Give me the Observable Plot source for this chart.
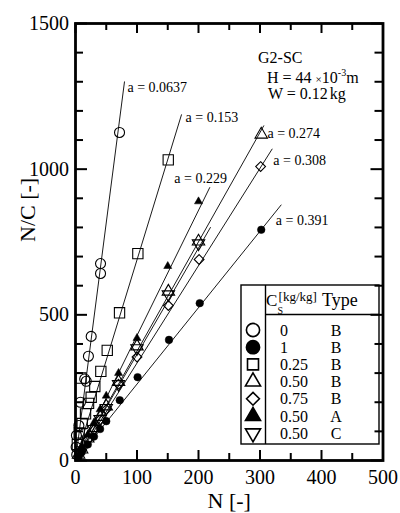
<!DOCTYPE html>
<html><head><meta charset="utf-8">
<script src="https://cdn.jsdelivr.net/npm/d3@7"></script>
<script src="https://cdn.jsdelivr.net/npm/@observablehq/plot@0.6"></script>
<style>
html,body{margin:0;padding:0;background:#fff;}
#chart{position:relative;width:400px;height:513px;}
</style></head><body><div id="chart"></div>
<script>
// ---------- data ----------
const xTickLabels = [0, 100, 200, 300, 400, 500];
const xMinorTicks = [50, 150, 250, 350, 450];
const yTickLabels = [0, 500, 1000, 1500];
const yMinorTicks = [100, 200, 300, 400, 600, 700, 800, 900, 1100, 1200, 1300, 1400];

const xLabel = "N [-]";
const yLabel = "N/C [-]";
const infoTitle = "G2-SC";

// series (legend order)
const seriesKey  = ["0B", "1B", "025B", "050B", "075B", "050A", "050C"];
const legendCs   = ["0", "1", "0.25", "0.50", "0.75", "0.50", "0.50"];
const legendType = ["B", "B", "B", "B", "B", "A", "C"];

const N_0B   = [71.6, 40.7, 40.7, 25.5, 21, 15, 17.5, 8, 5.5, 1.5, 1, 2];
const NC_0B  = [1126, 676, 642, 426, 358, 280, 272, 200, 120, 86, 46, 20];
const N_1B   = [302, 202, 152, 101, 72, 50, 40, 30, 20, 10, 5];
const NC_1B  = [792, 540, 414, 286, 207, 135, 108, 82, 55, 28, 14];
const N_025B = [150.8, 101.4, 71.6, 51.6, 41.2, 31.4, 25.5, 21.2, 16.3, 10.9, 9, 6, 3];
const NC_025B= [1032, 710, 507, 378, 306, 254, 217, 196, 160, 127, 283, 95, 55];
const N_050B = [302, 200, 151, 100, 70, 50, 40, 30, 20, 10, 5];
const NC_050B= [1119, 752, 580, 392, 270, 186, 150, 112, 76, 38, 20];
const N_075B = [301, 201, 151, 100, 70, 50, 40, 30, 20, 10];
const NC_075B= [1009, 690, 532, 355, 262, 175, 140, 105, 70, 35];
const N_050A = [200, 150, 100, 70, 50, 40, 30, 20, 10];
const NC_050A= [889, 667, 420, 300, 222, 175, 130, 88, 44];
const N_050C = [200, 151, 100, 70, 50, 40, 30, 20, 10];
const NC_050C= [745, 570, 385, 262, 180, 142, 108, 72, 35];

// fitted lines (from origin to end point)
const lineLabel = ["a = 0.0637", "a = 0.153", "a = 0.229", "a = 0.274", "", "a = 0.308", "a = 0.391"];
const lineEndN  = [79.7, 172.5, 218.5, 306.4, 219.7, 320, 334.7];
const lineEndNC = [1301, 1188, 938, 1150, 801, 1070, 878];

// ---------- build tables ----------
const seriesN  = {"0B": N_0B, "1B": N_1B, "025B": N_025B, "050B": N_050B, "075B": N_075B, "050A": N_050A, "050C": N_050C};
const seriesNC = {"0B": NC_0B, "1B": NC_1B, "025B": NC_025B, "050B": NC_050B, "075B": NC_075B, "050A": NC_050A, "050C": NC_050C};
const points = seriesKey.flatMap(k => seriesN[k].map((n, i) => ({key: k, n, nc: seriesNC[k][i]})));
const lines = lineLabel.map((label, i) => ({label, n0: 0, nc0: 0, n1: lineEndN[i], nc1: lineEndNC[i]}));

// ---------- styles ----------
const FONT = "'Liberation Serif', 'Times New Roman', serif";
const symStyle = {
  "0B":   {symbol: "circle",   fill: "none",  r: 5,   rotate: 0},
  "1B":   {symbol: "circle",   fill: "black", r: 3.8, rotate: 0},
  "025B": {symbol: "square",   fill: "none",  r: 5.8, rotate: 0},
  "050B": {symbol: "triangle", fill: "none",  r: 4.6, rotate: 0},
  "075B": {symbol: "diamond2", fill: "none",  r: 4.4, rotate: 0},
  "050A": {symbol: "triangle", fill: "black", r: 3,   rotate: 0},
  "050C": {symbol: "triangle", fill: "none",  r: 4.6, rotate: 180}
};
const labelStyle = [
  {dx: 3, dy: 6, anchor: "start"},
  {dx: 4, dy: 3, anchor: "start"},
  {dx: 17, dy: -9, anchor: "end"},
  {dx: 3.5, dy: 8, anchor: "start"},
  null,
  {dx: 1, dy: 12, anchor: "start"},
  {dx: -5.5, dy: 16, anchor: "start"}
];

const dotMarks = seriesKey.map(k => {
  const s = symStyle[k];
  return Plot.dot(points.filter(d => d.key === k), {
    x: "n", y: "nc", symbol: () => s.symbol, r: s.r, rotate: s.rotate,
    fill: s.fill, stroke: "black", strokeWidth: s.fill === "none" ? 1.1 : 0.5
  });
});

const labelMarks = lines.map((d, i) => labelStyle[i] ? Plot.text([d], {
  x: "n1", y: "nc1", text: "label", dx: labelStyle[i].dx, dy: labelStyle[i].dy,
  textAnchor: labelStyle[i].anchor, fontSize: 14, fill: "black", fontFamily: FONT
}) : null).filter(Boolean);

const tickW = 2;
const svg = Plot.plot({
  width: 400, height: 513,
  marginLeft: 75, marginRight: 17.5, marginTop: 23, marginBottom: 53,
  x: {domain: [0, 500], axis: null},
  y: {domain: [0, 1500], axis: null},
  style: {fontFamily: FONT, background: "white", color: "black", overflow: "visible"},
  marks: [
    // inward ticks on all four sides
    Plot.ruleX(xTickLabels, {x: d => d, y1: 0, y2: 0, insetBottom: 10, stroke: "black", strokeWidth: tickW}),
    Plot.ruleX(xMinorTicks, {x: d => d, y1: 0, y2: 0, insetBottom: 7, stroke: "black", strokeWidth: tickW}),
    Plot.ruleX(xTickLabels, {x: d => d, y1: 1500, y2: 1500, insetTop: 10, stroke: "black", strokeWidth: tickW}),
    Plot.ruleX(xMinorTicks, {x: d => d, y1: 1500, y2: 1500, insetTop: 7, stroke: "black", strokeWidth: tickW}),
    Plot.ruleY(yTickLabels, {y: d => d, x1: 0, x2: 0, insetRight: -12, stroke: "black", strokeWidth: tickW}),
    Plot.ruleY(yMinorTicks, {y: d => d, x1: 0, x2: 0, insetRight: -8, stroke: "black", strokeWidth: tickW}),
    Plot.ruleY(yTickLabels, {y: d => d, x1: 500, x2: 500, insetLeft: -12, stroke: "black", strokeWidth: tickW}),
    Plot.ruleY(yMinorTicks, {y: d => d, x1: 500, x2: 500, insetLeft: -8, stroke: "black", strokeWidth: tickW}),
    Plot.frame({stroke: "black", strokeWidth: 2.8}),
    Plot.axisX(xTickLabels, {tickSize: 0, tickPadding: 9, fontSize: 20, label: null, tickFormat: d => String(d), fontFamily: FONT}),
    Plot.axisY(yTickLabels, {tickSize: 0, tickPadding: 6.5, fontSize: 20, label: null, tickFormat: d => String(d), fontFamily: FONT}),
    Plot.link(lines, {x1: "n0", y1: "nc0", x2: "n1", y2: "nc1", stroke: "black", strokeWidth: 0.9}),
    ...dotMarks,
    ...labelMarks,
    Plot.text([xLabel], {frameAnchor: "bottom", dy: 47.5, lineAnchor: "bottom", fontSize: 22, text: d => d, fill: "black", fontFamily: FONT}),
    Plot.text([yLabel], {frameAnchor: "left", dx: -48, rotate: -90, fontSize: 22, text: d => d, fill: "black", fontFamily: FONT})
  ]
});
document.getElementById("chart").appendChild(svg);

// ---------- annotation and legend (inside frame) ----------
const root = d3.select(svg);
const ann = root.append("g").attr("font-family", FONT).attr("fill", "black").attr("text-anchor", "start");
ann.append("text").attr("x", 258).attr("y", 63).attr("font-size", 16).text(infoTitle);
const hT = ann.append("text").attr("x", 267).attr("y", 83).attr("font-size", 16);
hT.append("tspan").text("H = 44 ");
hT.append("tspan").attr("font-size", 11).text("×");
hT.append("tspan").text("10");
hT.append("tspan").attr("font-size", 10).attr("dy", -7).text("-3");
hT.append("tspan").attr("dy", 7).text("m");
const wT = ann.append("text").attr("x", 268).attr("y", 99).attr("font-size", 16);
wT.append("tspan").text("W = 0.12");
wT.append("tspan").attr("dx", 2).text("kg");

const box = {x0: 241, x1: 379, y0: 285, y1: 444, xDiv: 265.5, yDiv: 314.5, row0: 330, rowStep: 17.2};
const lg = root.append("g").attr("font-family", FONT).attr("fill", "black").attr("text-anchor", "start");
lg.append("rect").attr("x", box.x0).attr("y", box.y0).attr("width", box.x1 - box.x0).attr("height", box.y1 - box.y0)
  .attr("fill", "none").attr("stroke", "black").attr("stroke-width", 1.4);
lg.append("line").attr("x1", box.xDiv).attr("x2", box.xDiv).attr("y1", box.y0).attr("y2", box.y1).attr("stroke", "black").attr("stroke-width", 1.4);
lg.append("line").attr("x1", box.xDiv).attr("x2", box.x1).attr("y1", box.yDiv).attr("y2", box.yDiv).attr("stroke", "black").attr("stroke-width", 1.4);
// header: C with subscript S, then [kg/kg], then Type
lg.append("text").attr("x", 266).attr("y", 306).attr("font-size", 17).text("C");
lg.append("text").attr("x", 277.6).attr("y", 314).attr("font-size", 10).text("S");
lg.append("text").attr("x", 278.6).attr("y", 301).attr("font-size", 13).text("[kg/kg]");
lg.append("text").attr("x", 322).attr("y", 306).attr("font-size", 18).text("Type");

const d3sym = {circle: d3.symbolCircle, square: d3.symbolSquare, triangle: d3.symbolTriangle, diamond2: d3.symbolDiamond2};
const legR = {"0B": 6.6, "1B": 6.6, "025B": 6.2, "050B": 5.6, "075B": 5.8, "050A": 5.6, "050C": 5.6};
seriesKey.forEach((k, i) => {
  const s = symStyle[k];
  const y = box.row0 + i * box.rowStep;
  const r = legR[k];
  lg.append("path")
    .attr("d", d3.symbol(d3sym[s.symbol], r * r * Math.PI)())
    .attr("transform", `translate(253,${y}) rotate(${s.rotate})`)
    .attr("fill", s.fill).attr("stroke", "black").attr("stroke-width", 1.6);
  lg.append("text").attr("x", 280).attr("y", y + 5.5).attr("font-size", 16).text(legendCs[i]);
  lg.append("text").attr("x", 336).attr("y", y + 5.5).attr("font-size", 16).attr("text-anchor", "middle").text(legendType[i]);
});

// make sure every text uses the serif face
root.selectAll("text").attr("font-family", FONT);
</script>
</body></html>
